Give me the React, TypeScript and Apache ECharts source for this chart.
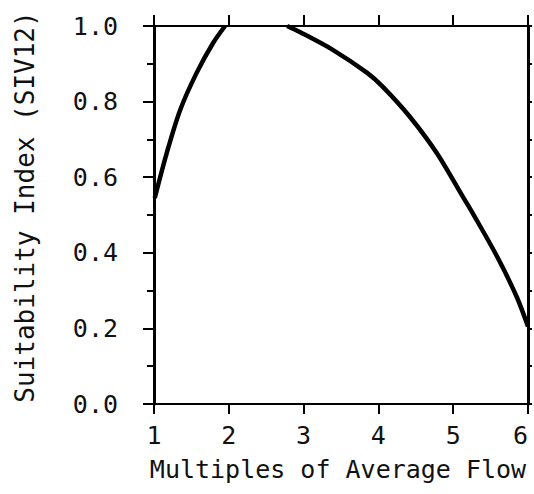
import React, { useEffect, useRef } from "react";
import * as echarts from "echarts";

const xTicks = [1, 2, 3, 4, 5, 6];
const yTicks = [0, 0.2, 0.4, 0.6, 0.8, 1.0];

const lowFlowX = [1.01, 1.17, 1.35, 1.57, 1.79, 1.95];
const lowFlowY = [0.545, 0.664, 0.778, 0.876, 0.955, 1.0];

const highFlowX = [2.78, 2.95, 3.39, 3.85, 4.06, 4.42, 4.78, 5.13, 5.26, 5.59, 5.85, 6.0];
const highFlowY = [1.0, 0.984, 0.937, 0.876, 0.839, 0.76, 0.664, 0.548, 0.505, 0.389, 0.283, 0.205];

const FONT = "DejaVu Sans Mono";

export default function App() {
  const ref = useRef<HTMLDivElement>(null);
  useEffect(() => {
    if (!ref.current) return;
    const chart = echarts.init(ref.current, undefined, { renderer: "svg" });
    const seg1 = lowFlowX.map((x, i) => [x, lowFlowY[i]]);
    const seg2 = highFlowX.map((x, i) => [x, highFlowY[i]]);
    const lineStyle = { color: "#000", width: 2 };
    chart.setOption({
      animation: false,
      backgroundColor: "#fff",
      grid: { left: 154, right: 6, top: 26, bottom: 90, outerBoundsMode: "none", containLabel: false },
      xAxis: [
        {
          type: "value",
          position: "bottom",
          min: xTicks[0],
          max: xTicks[xTicks.length - 1],
          interval: 1,
          splitLine: { show: false },
          axisLine: { show: true, onZero: false, lineStyle },
          axisTick: { show: true, length: 10, lineStyle },
          axisLabel: {
            margin: 19,
            color: "#111",
            fontFamily: FONT,
            fontSize: 25,
            hideOverlap: false,
            alignMaxLabel: "right",
          },
          name: "Multiples of Average Flow",
          nameLocation: "middle",
          nameGap: 53,
          nameTextStyle: { color: "#111", fontFamily: FONT, fontSize: 25, padding: [0, 6, 0, 0] },
        },
        {
          type: "value",
          position: "top",
          min: xTicks[0],
          max: xTicks[xTicks.length - 1],
          interval: 1,
          splitLine: { show: false },
          axisLine: { show: true, onZero: false, lineStyle },
          axisTick: { show: true, length: 11, lineStyle },
          axisLabel: { show: false },
        },
      ],
      yAxis: [
        {
          type: "value",
          position: "left",
          min: yTicks[0],
          max: yTicks[yTicks.length - 1],
          interval: 0.2,
          splitLine: { show: false },
          axisLine: { show: true, onZero: false, lineStyle: { color: "#000", width: 3 } },
          axisTick: { show: true, length: 11, lineStyle },
          minorTick: { show: true, splitNumber: 2, length: 7, lineStyle },
          axisLabel: {
            margin: 36,
            color: "#111",
            fontFamily: FONT,
            fontSize: 25,
            formatter: (v: number) => v.toFixed(1),
          },
          name: "Suitability Index (SIV12)",
          nameLocation: "middle",
          nameGap: 116,
          nameTextStyle: { color: "#111", fontFamily: FONT, fontSize: 26, padding: [0, 0, 0, 16] },
        },
        {
          type: "value",
          position: "right",
          min: yTicks[0],
          max: yTicks[yTicks.length - 1],
          interval: 0.1,
          splitLine: { show: false },
          axisLine: { show: true, onZero: false, lineStyle: { color: "#000", width: 3 } },
          axisTick: { show: true, length: 4, lineStyle },
          axisLabel: { show: false },
        },
      ],
      series: [
        {
          type: "line",
          data: seg1,
          smooth: 0.3,
          symbol: "none",
          lineStyle: { color: "#000", width: 4.5 },
          z: 5,
        },
        {
          type: "line",
          data: seg2,
          smooth: 0.3,
          symbol: "none",
          lineStyle: { color: "#000", width: 4.5 },
          z: 5,
        },
      ],
    });
    return () => chart.dispose();
  }, []);
  return (
    <div
      ref={ref}
      style={{ position: "fixed", left: 0, top: 0, width: 534, height: 494, background: "#fff" }}
    />
  );
}
